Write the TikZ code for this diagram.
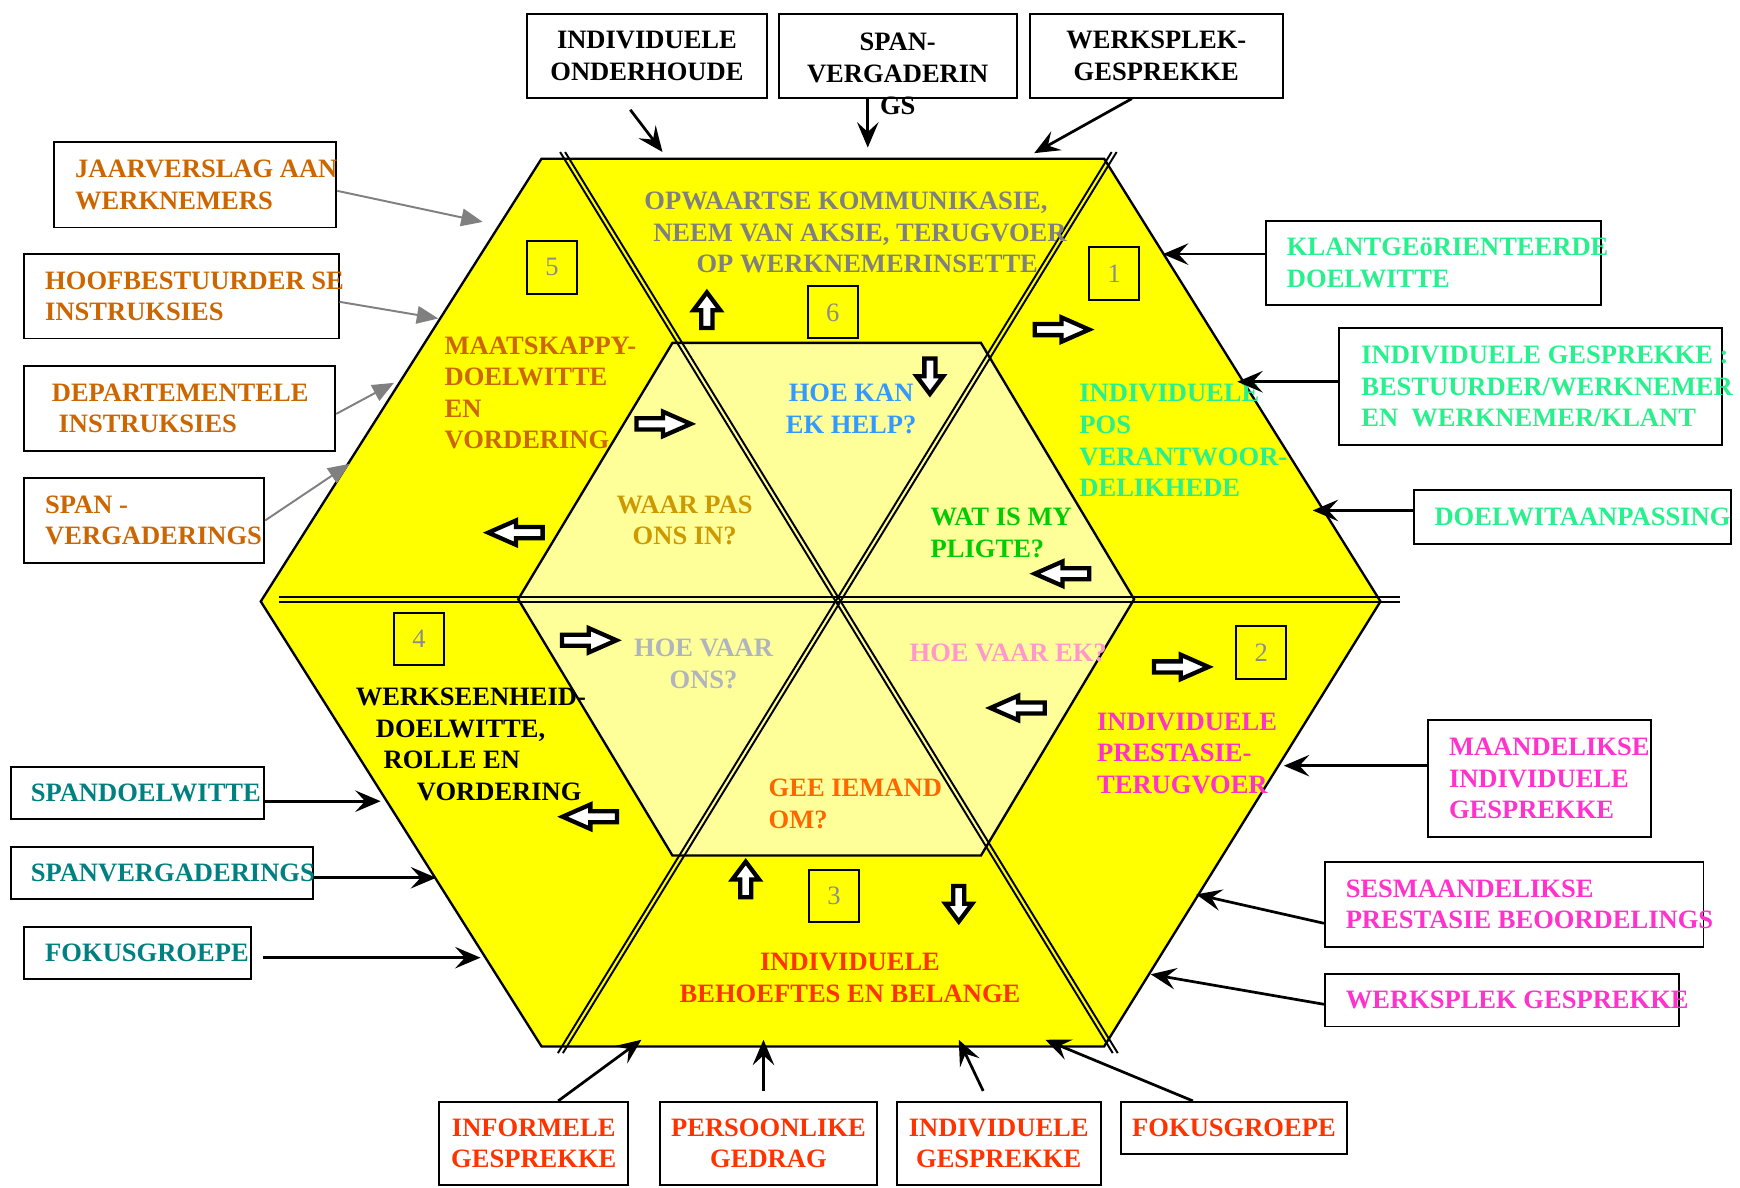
\documentclass[tikz,border=0pt]{standalone}
\usepackage{fontspec}
\setmainfont{Liberation Serif}
\usepackage{tikz}
\usetikzlibrary{arrows.meta,positioning}

\definecolor{hexyel}{RGB}{255,255,0}
\definecolor{hexpale}{RGB}{255,255,153}
\definecolor{orng}{RGB}{204,102,0}
\definecolor{mint}{RGB}{40,240,140}
\definecolor{mgnt}{RGB}{255,51,204}
\definecolor{tealtxt}{RGB}{0,128,128}
\definecolor{redtxt}{RGB}{255,51,0}
\definecolor{graytxt}{RGB}{128,128,128}
\definecolor{bluetxt}{RGB}{51,153,255}
\definecolor{goldtxt}{RGB}{204,153,0}
\definecolor{greentxt}{RGB}{0,204,0}
\definecolor{silvertxt}{RGB}{176,180,190}
\definecolor{pinktxt}{RGB}{255,153,204}
\definecolor{oranjetxt}{RGB}{255,102,0}
\definecolor{numgray}{RGB}{140,140,140}
\definecolor{arrgray}{RGB}{128,128,128}

\begin{document}
\begin{tikzpicture}[x=0.01cm,y=-0.01cm,
		every node/.style={inner sep=0pt,font=\fontsize{6.8}{8.1}\selectfont\bfseries},
		frame/.style={draw,line width=0.5pt,fill=white},
		lbl/.style={align=left},
		numbox/.style={draw,line width=0.5pt,minimum width=0.45cm,minimum height=0.47cm,text=numgray,font=\fontsize{6.8}{8.1}\selectfont},
		hexline/.style={draw=black,line width=0.6pt},
		dline/.style={line width=0.5pt},
		arr/.style={-{Stealth[length=6.5pt,width=5.5pt,inset=2.5pt]},line width=0.7pt},
		garr/.style={-{Triangle[length=5.5pt,width=4.5pt]},draw=arrgray,line width=0.5pt},
		longblk/.pic={\draw[line width=1.1pt,fill=white] (-25,-5) -- (-1,-5) -- (-1,-11) -- (24,0) -- (-1,11) -- (-1,5) -- (-25,5) -- cycle;},
		shortblk/.pic={\draw[line width=1.1pt,fill=white] (-16,-5) -- (0,-5) -- (0,-12) -- (16,0) -- (0,12) -- (0,5) -- (-16,5) -- cycle;}]
	\useasboundingbox (0,0) rectangle (1568,1070);
	
	% hexagons
	\draw[hexline,fill=hexyel] (488,143) -- (995,143) -- (1244,542) -- (995,943) -- (488,943) -- (235,542) -- cycle;
	\draw[hexline,fill=hexpale] (606,309) -- (884,309) -- (1022,540) -- (884,771) -- (606,771) -- (467,540) -- cycle;
	\foreach \s in {-0.0225,0.0225}{
		\draw[dline,yshift=\s cm] (251,540.5) -- (1262,540.5);
		\draw[dline,xshift=\s cm] (507,137) -- (1005,949);
		\draw[dline,xshift=\s cm] (1004,137) -- (505,949);
	}
	
	\node[numbox] (n5) at (497.5,241) {5};
	\node[numbox] (n6) at (750.5,281.5) {6};
	\node[numbox] (n1) at (1004,246.5) {1};
	\node[numbox] (n4) at (377.5,576) {4};
	\node[numbox] (n2) at (1136.5,588) {2};
	\node[numbox] (n3) at (751.5,807.5) {3};
	
	% texts in the hexagon
	\node[lbl,text=graytxt,anchor=west] (opw) at (580,209.5) {OPWAARTSE KOMMUNIKASIE,\\\hspace*{0.08cm}NEEM VAN AKSIE, TERUGVOER\\\hspace*{0.47cm}OP WERKNEMERINSETTE};
	\node[lbl,text=orng,anchor=west] (maat) at (400,354) {MAATSKAPPY-\\DOELWITTE\\EN\\VORDERING};
	\node[lbl,text=mint,anchor=west] (pos) at (972,397) {INDIVIDUELE\\POS\\VERANTWOOR-\\DELIKHEDE};
	\node[lbl,anchor=west] (eenheid) at (320,671) {WERKSEENHEID-\\\hspace*{0.18cm}DOELWITTE,\\\hspace*{0.25cm}ROLLE EN\\\hspace*{0.55cm}VORDERING};
	\node[lbl,text=mgnt,anchor=west] (prest) at (988,679) {INDIVIDUELE\\PRESTASIE-\\TERUGVOER};
	\node[text=redtxt,align=center] (behoef) at (766,881.5) {INDIVIDUELE\\BEHOEFTES EN BELANGE};
	\node[text=bluetxt,align=center] (help) at (767,368.5) {HOE KAN\\EK HELP?};
	\node[text=goldtxt,align=center] (waar) at (617,469) {WAAR PAS\\ONS IN?};
	\node[lbl,text=greentxt,anchor=west] (pligte) at (838,480) {WAT IS MY\\PLIGTE?};
	\node[text=silvertxt,align=center] (vaarons) at (634,598.5) {HOE VAAR\\ONS?};
	\node[text=pinktxt,anchor=west] (vaarek) at (819,588) {HOE VAAR EK?};
	\node[lbl,text=oranjetxt,anchor=west] (iemand) at (692,724.5) {GEE IEMAND\\OM?};
	
	\pic[rotate=90] (b1) at (637,279.5) {shortblk};
	\pic[rotate=-90] (b2) at (838,339) {shortblk};
	\pic (b3) at (957.5,297) {longblk};
	\pic (b4) at (598.5,382) {longblk};
	\pic[rotate=180] (b5) at (464,480) {longblk};
	\pic[rotate=180] (b6) at (956.5,517) {longblk};
	\pic (b7) at (531.5,577) {longblk};
	\pic (b8) at (1065,601) {longblk};
	\pic[rotate=180] (b9) at (916.5,638) {longblk};
	\pic[rotate=180] (b10) at (531,736) {longblk};
	\pic[rotate=90] (b11) at (672,792.5) {shortblk};
	\pic[rotate=-90] (b12) at (864,814.5) {shortblk};
	
	% boxes on top
	\node[frame,align=center,minimum width=2.16cm,minimum height=0.75cm] (ond) at (583,50.5) {INDIVIDUELE\\ONDERHOUDE};
	\node[frame,minimum width=2.14cm,minimum height=0.75cm] (spanv) at (809,50.5) {};
	\node[align=center] (spanvtxt) at (809,66.5) {SPAN-\\VERGADERIN\\GS};
	\node[frame,align=center,minimum width=2.28cm,minimum height=0.75cm] (werk) at (1042,50.5) {WERKSPLEK-\\GESPREKKE};
	
	% boxes on the left
	\node[frame,minimum width=2.54cm,minimum height=0.77cm] (jaar) at (176,166.5) {};
	\node[lbl,text=orng,right=0.19cm of jaar.west] (jaartxt) {JAARVERSLAG AAN\\WERKNEMERS};
	\node[frame,minimum width=2.83cm,minimum height=0.76cm] (hoof) at (163.5,267) {};
	\node[lbl,text=orng,right=0.19cm of hoof.west] (hooftxt) {HOOFBESTUURDER SE\\INSTRUKSIES};
	\node[frame,minimum width=2.80cm,minimum height=0.76cm] (dep) at (162,368) {};
	\node[lbl,text=orng,right=0.25cm of dep.west] (deptxt) {DEPARTEMENTELE\\\hspace*{0.06cm}INSTRUKSIES};
	\node[frame,minimum width=2.16cm,minimum height=0.76cm] (spanr) at (130,469) {};
	\node[lbl,text=orng,right=0.19cm of spanr.west] (spanrtxt) {SPAN -\\VERGADERINGS};
	\node[frame,minimum width=2.28cm,minimum height=0.47cm] (spand) at (124,714.5) {};
	\node[text=tealtxt,right=0.18cm of spand.west] (spandtxt) {SPANDOELWITTE};
	\node[frame,minimum width=2.72cm,minimum height=0.47cm] (spanvg) at (146,786.5) {};
	\node[text=tealtxt,right=0.18cm of spanvg.west] (spanvgtxt) {SPANVERGADERINGS};
	\node[frame,minimum width=2.04cm,minimum height=0.47cm] (fokl) at (124,858.5) {};
	\node[text=tealtxt,right=0.19cm of fokl.west] (fokltxt) {FOKUSGROEPE};
	
	% boxes on the right
	\node[frame,minimum width=3.02cm,minimum height=0.76cm] (klant) at (1292,237) {};
	\node[lbl,text=mint,right=0.19cm of klant.west] (klanttxt) {KLANTGEöRIENTEERDE\\DOELWITTE};
	\node[frame,minimum width=3.45cm,minimum height=1.05cm] (indgesp) at (1379.5,348.5) {};
	\node[lbl,text=mint,right=0.20cm of indgesp.west] (indgesptxt) {INDIVIDUELE GESPREKKE :\\BESTUURDER/WERKNEMER\\EN\ \ WERKNEMER/KLANT};
	\node[frame,minimum width=2.86cm,minimum height=0.48cm] (doela) at (1417,466) {};
	\node[text=mint,right=0.19cm of doela.west] (doelatxt) {DOELWITAANPASSING};
	\node[frame,minimum width=2.01cm,minimum height=1.05cm] (maand) at (1387.5,701.5) {};
	\node[lbl,text=mgnt,right=0.19cm of maand.west] (maandtxt) {MAANDELIKSE\\INDIVIDUELE\\GESPREKKE};
	\node[frame,minimum width=3.41cm,minimum height=0.76cm] (sesm) at (1364.5,815) {};
	\node[lbl,text=mgnt,right=0.19cm of sesm.west] (sesmtxt) {SESMAANDELIKSE\\PRESTASIE BEOORDELINGS};
	\node[frame,minimum width=3.19cm,minimum height=0.47cm] (werkg) at (1353.5,901.5) {};
	\node[text=mgnt,right=0.19cm of werkg.west] (werkgtxt) {WERKSPLEK GESPREKKE};
	
	% boxes below
	\node[frame,align=center,text=redtxt,minimum width=1.70cm,minimum height=0.75cm] (inf) at (481,1030.5) {INFORMELE\\GESPREKKE};
	\node[frame,align=center,text=redtxt,minimum width=1.95cm,minimum height=0.75cm] (pers) at (692.5,1030.5) {PERSOONLIKE\\GEDRAG};
	\node[frame,align=center,text=redtxt,minimum width=1.84cm,minimum height=0.75cm] (indg) at (900,1030.5) {INDIVIDUELE\\GESPREKKE};
	\node[frame,text=redtxt,minimum width=2.04cm,minimum height=0.47cm] (fokb) at (1112,1016.5) {FOKUSGROEPE};
	
	% connectors
	\coordinate (t1) at (597,137);
	\coordinate (t2) at (782,133);
	\coordinate (t3) at (932,138);
	\coordinate (t4) at (1048,229);
	\coordinate (t5) at (1115,344);
	\coordinate (t6) at (1183,460);
	\coordinate (t7) at (1157,690);
	\coordinate (t8) at (1078,806);
	\coordinate (t9) at (1037,878);
	\coordinate (t10) at (343,722);
	\coordinate (t11) at (393,791);
	\coordinate (t12) at (433,863);
	\coordinate (t13) at (578,937);
	\coordinate (t14) at (688,937);
	\coordinate (t15) at (864,937);
	\coordinate (t16) at (942,937);
	\draw[arr] ([xshift=-0.15cm,yshift=-0.1cm]ond.south) -- (t1);
	\draw[arr] (spanv.south -| t2) -- (t2);
	\draw[arr] ([xshift=-0.22cm]werk.south) -- (t3);
	\draw[arr] (klant.west |- t4) -- (t4);
	\draw[arr] (indgesp.west |- t5) -- (t5);
	\draw[arr] (doela.west |- t6) -- (t6);
	\draw[arr] (maand.west |- t7) -- (t7);
	\draw[arr] ([yshift=-0.17cm]sesm.west) -- (t8);
	\draw[arr] ([yshift=-0.035cm]werkg.west) -- (t9);
	\draw[arr] (spand.east |- t10) -- (t10);
	\draw[arr] (spanvg.east |- t11) -- (t11);
	\draw[arr] (fokl.east |- t12) ++(10,0) -- (t12);
	\draw[arr] ([xshift=0.22cm]inf.north) -- (t13);
	\draw[arr] (pers.north -| t14) ++(0,-9) -- (t14);
	\draw[arr] ([xshift=-0.14cm,yshift=0.09cm]indg.north) -- (t15);
	\draw[arr] ([xshift=-0.37cm]fokb.north) -- (t16);
	
	\coordinate (g1) at (435,200);
	\coordinate (g2) at (395,287);
	\coordinate (g3) at (355,345);
	\coordinate (g4) at (315,418);
	\draw[garr] ([yshift=-0.055cm]jaar.east) -- (g1);
	\draw[garr] ([yshift=-0.05cm]hoof.east) -- (g2);
	\draw[garr] ([yshift=-0.05cm]dep.east) -- (g3);
	\draw[garr] (spanr.east) -- (g4);
\end{tikzpicture}
\end{document}
